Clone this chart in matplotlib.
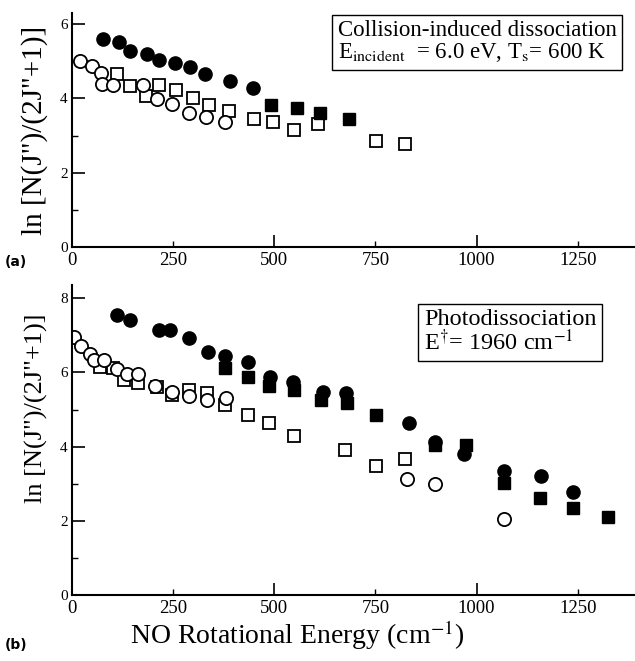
import numpy as np
import matplotlib
matplotlib.use("Agg")
import matplotlib.pyplot as plt
from matplotlib.ticker import MultipleLocator, FormatStrFormatter

plt.rcParams['font.family'] = ['Liberation Serif', 'DejaVu Serif']
plt.rcParams['mathtext.fontset'] = 'stix'

# ---- panel (a): collision-induced dissociation ----
a_fc_x = [77, 115, 144, 185, 215, 255, 292, 329, 391, 447]
a_fc_y = [5.61, 5.52, 5.28, 5.19, 5.03, 4.95, 4.85, 4.67, 4.46, 4.29]
a_fs_x = [492, 556, 612, 684]
a_fs_y = [3.82, 3.75, 3.61, 3.46]
a_oc_x = [20, 50, 71, 75, 102, 176, 210, 247, 288, 331, 377]
a_oc_y = [5.00, 4.87, 4.69, 4.40, 4.35, 4.37, 3.98, 3.84, 3.62, 3.50, 3.37]
a_os_x = [111, 144, 183, 214, 257, 300, 339, 387, 451, 498, 548, 607, 752, 822]
a_os_y = [4.67, 4.33, 4.07, 4.35, 4.22, 4.00, 3.82, 3.66, 3.46, 3.37, 3.15, 3.31, 2.86, 2.77]

# ---- panel (b): photodissociation ----
b_fc_x = [111, 144, 214, 243, 290, 336, 377, 436, 490, 545, 620, 676, 834, 896, 969, 1068, 1158, 1238]
b_fc_y = [7.55, 7.41, 7.14, 7.14, 6.92, 6.56, 6.44, 6.27, 5.88, 5.75, 5.48, 5.44, 4.63, 4.13, 3.79, 3.34, 3.21, 2.78]
b_fs_x = [377, 436, 486, 548, 615, 680, 752, 896, 973, 1068, 1156, 1238, 1326]
b_fs_y = [6.11, 5.88, 5.63, 5.53, 5.26, 5.17, 4.85, 4.04, 4.04, 3.01, 2.61, 2.35, 2.09]
b_oc_x = [5, 21, 45, 55, 78, 111, 135, 163, 204, 247, 288, 333, 380, 827, 897, 1068]
b_oc_y = [6.95, 6.71, 6.51, 6.33, 6.33, 6.08, 5.96, 5.95, 5.63, 5.48, 5.36, 5.26, 5.30, 3.14, 2.98, 2.04]
b_os_x = [69, 102, 129, 163, 211, 247, 290, 333, 379, 435, 486, 548, 674, 752, 822]
b_os_y = [6.15, 6.11, 5.80, 5.72, 5.61, 5.39, 5.53, 5.44, 5.12, 4.85, 4.64, 4.29, 3.91, 3.48, 3.66]

fig = plt.figure(figsize=(6.35, 6.61), dpi=100)
ax1 = fig.add_axes([0.1134, 0.6263, 0.885, 0.354])
ax2 = fig.add_axes([0.1134, 0.0998, 0.885, 0.4692])

ms = 9.5


def draw(ax, fc, fs, oc, os_):
    ax.plot(os_[0], os_[1], 's', ms=ms - 0.5, mfc='white', mec='black', mew=1.3, ls='none')
    ax.plot(oc[0], oc[1], 'o', ms=ms, mfc='white', mec='black', mew=1.3, ls='none')
    ax.plot(fs[0], fs[1], 's', ms=ms - 0.5, mfc='black', mec='black', ls='none')
    ax.plot(fc[0], fc[1], 'o', ms=ms, mfc='black', mec='black', ls='none')


draw(ax1, (a_fc_x, a_fc_y), (a_fs_x, a_fs_y), (a_oc_x, a_oc_y), (a_os_x, a_os_y))
draw(ax2, (b_fc_x, b_fc_y), (b_fs_x, b_fs_y), (b_oc_x, b_oc_y), (b_os_x, b_os_y))

ax1.set_ylim(0, 6.3)
ax2.set_ylim(0, 8.36)

for ax in (ax1, ax2):
    ax.set_xlim(0, 1389)
    ax.spines['top'].set_visible(False)
    ax.spines['right'].set_visible(False)
    ax.spines['left'].set_linewidth(1.5)
    ax.spines['bottom'].set_linewidth(1.5)
    ax.xaxis.set_major_locator(MultipleLocator(500))
    ax.xaxis.set_minor_locator(MultipleLocator(250))
    ax.xaxis.set_minor_formatter(FormatStrFormatter('%d'))
    ax.yaxis.set_major_locator(MultipleLocator(2))
    ax.yaxis.set_minor_locator(MultipleLocator(1))
    ax.tick_params(which='major', direction='in', length=9, width=1.2, labelsize=13.5)
    ax.tick_params(which='minor', direction='in', length=4, width=1.0, labelsize=13.5)
    ax.tick_params(axis='y', which='major', labelsize=11, pad=3)

ax1.set_ylabel('ln [N(J")/(2J"+1)]', fontsize=21)
ax1.yaxis.set_label_coords(-0.043, 0.5)
ax2.set_ylabel('ln [N(J")/(2J"+1)]', fontsize=19)
ax2.yaxis.set_label_coords(-0.043, 0.603)

ax2.set_xlabel(r'NO Rotational Energy (cm$^{-1}$)', fontsize=20)
ax2.xaxis.set_label_coords(0.40, -0.075)

ax1.text(0.473, 0.972,
         'Collision-induced dissociation\n' + r'E$_{\rm incident}$  = 6.0 eV, T$_{\rm s}$= 600 K',
         transform=ax1.transAxes, ha='left', va='top', fontsize=16.5, linespacing=1.05,
         bbox=dict(boxstyle='square,pad=0.25', fc='white', ec='black', lw=1.0))
ax2.text(0.626, 0.922,
         'Photodissociation\n' + r'E$^{\dagger}$= 1960 cm$^{-1}$',
         transform=ax2.transAxes, ha='left', va='top', fontsize=17.5, linespacing=1.0,
         bbox=dict(boxstyle='square,pad=0.22', fc='white', ec='black', lw=1.0))

fig.text(0.008, 0.597, '(a)', fontsize=10, fontweight='bold', family='DejaVu Sans')
fig.text(0.008, 0.018, '(b)', fontsize=10, fontweight='bold', family='DejaVu Sans')

fig.savefig('out.png', dpi=100)
